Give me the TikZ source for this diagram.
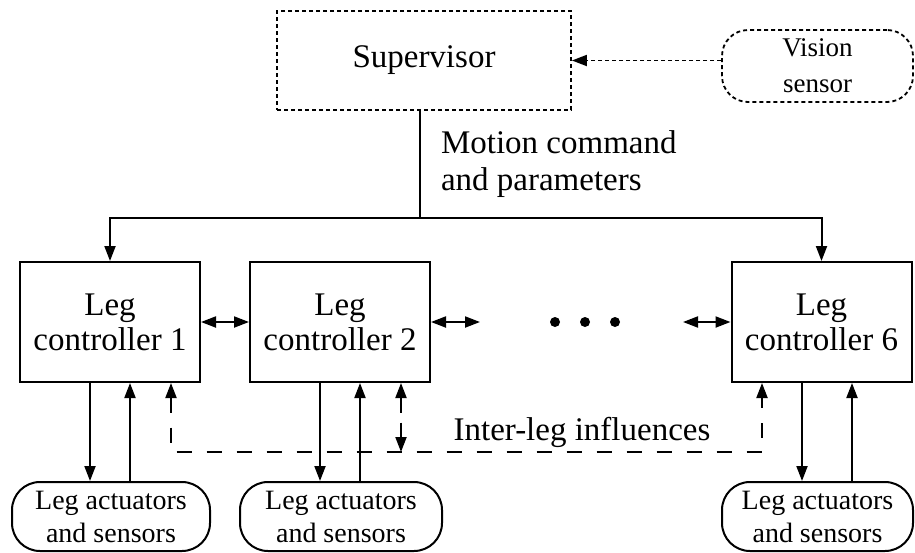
\documentclass[tikz,border=0pt]{standalone}
\usepackage{fontspec}
\setmainfont{Liberation Serif}
\usetikzlibrary{arrows.meta,calc}

\begin{document}
\begin{tikzpicture}[x=1pt,y=-1pt,
  line width=2pt,
  tip/.tip={Triangle[length=15pt,width=11pt]},
  box/.style={draw,rectangle,inner sep=0pt,align=center},
  ctrlbox/.style={box,minimum width=180pt,minimum height=120pt,
    font=\fontsize{33}{35}\selectfont},
  supbox/.style={box,minimum width=294pt,minimum height=99pt,
    line width=1.8pt,dash pattern=on 4pt off 3pt,
    font=\fontsize{33}{36}\selectfont},
  sensorbox/.style={box,rounded corners=26pt,minimum width=191pt,minimum height=72pt,
    line width=1.8pt,dash pattern=on 4pt off 3pt,
    font=\fontsize{27}{36}\selectfont},
  actbox/.style={box,rounded corners=28pt,minimum height=69pt,
    font=\fontsize{28}{33}\selectfont},
  arr/.style={-tip},
  darr/.style={tip-tip},
  dotarr/.style={-tip,line width=1.8pt,dash pattern=on 4pt off 3pt},
  infl/.style={line width=2pt,dash pattern=on 15pt off 15pt},
  lbl/.style={font=\fontsize{33}{37}\selectfont,inner sep=0pt},
  dotnode/.style={circle,fill,minimum size=10pt,inner sep=0pt}
]
\useasboundingbox (0,0) rectangle (915,552);

% supervisor and vision input
\node[supbox] (sup) at (424,60.5) {Supervisor};
\node[sensorbox] (vision) at (817.5,66) {Vision\\sensor};
\draw[dotarr] (vision.west |- sup.east) -- (sup.east);

% command bus
\node[lbl,align=left,anchor=west] (cmd) at (440,164) {Motion command\\and parameters};
\coordinate (bus) at (420,218);
\draw (bus |- sup.south) -- (bus);

% leg controllers
\node[ctrlbox] (c1) at (110,322) {Leg\\controller 1};
\node[ctrlbox] (c2) at (340,322) {Leg\\controller 2};
\node[ctrlbox] (c6) at (821.5,322) {Leg\\controller 6};

\draw[arr] (bus) -| (c1.north);
\draw[arr] (bus) -| (c6.north);

% neighbour links
\coordinate (n2) at (480,322);
\coordinate (n5) at (683,322);
\draw[darr] (c1.east) -- (c2.west);
\draw[darr] (c2.east) -- (n2);
\draw[darr] (n5) -- (c6.west);
\node[dotnode] (d1) at (555,322) {};
\node[dotnode] (d2) at (585,322) {};
\node[dotnode] (d3) at (615,322) {};

% actuators and sensors
\node[actbox,minimum width=198pt] (a1) at (111,516.5) {Leg actuators\\and sensors};
\node[actbox,minimum width=202pt] (a2) at (341,516.5) {Leg actuators\\and sensors};
\node[actbox,minimum width=191pt] (a6) at (817.5,516.5) {Leg actuators\\and sensors};

\draw[arr] ([xshift=-20pt]c1.south) -- ([xshift=-20pt]c1.south |- a1.north);
\draw[arr] ([xshift=20pt]c1.south |- a1.north) -- ([xshift=20pt]c1.south);
\draw[arr] ([xshift=-20pt]c2.south) -- ([xshift=-20pt]c2.south |- a2.north);
\draw[arr] ([xshift=20pt]c2.south |- a2.north) -- ([xshift=20pt]c2.south);
\draw[arr] ([xshift=-19.5pt]c6.south) -- ([xshift=-19.5pt]c6.south |- a6.north);
\draw[arr] ([xshift=30.5pt]c6.south |- a6.north) -- ([xshift=30.5pt]c6.south);

% inter-leg influences
\coordinate (il) at (171,452);
\coordinate (im) at (401,452);
\coordinate (ir) at (762,452);
\draw[infl,tip-tip] (c1.south -| il) -- (il) -- (ir) -- (c6.south -| ir);
\draw[infl,tip-tip,dash pattern=on 15pt off 10pt] (c2.south -| im) -- (im);
\node[lbl] (inter) at (582,432) {Inter-leg influences};
\end{tikzpicture}
\end{document}
